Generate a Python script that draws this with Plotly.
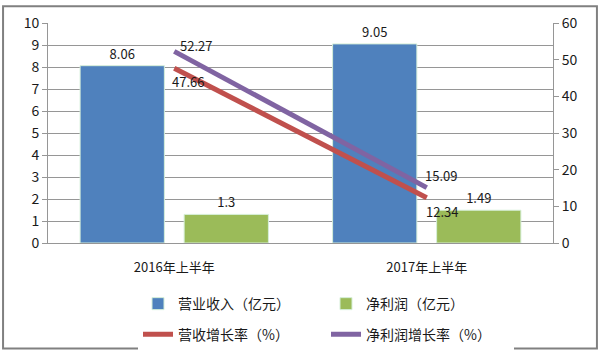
import plotly.graph_objects as go

categories = ["2016年上半年", "2017年上半年"]
revenue = [8.06, 9.05]          # 营业收入（亿元）
net_profit = [1.3, 1.49]        # 净利润（亿元）
rev_growth = [47.66, 12.34]     # 营收增长率（%）
np_growth = [52.27, 15.09]      # 净利润增长率（%）
left_ticks = list(range(0, 11))
right_ticks = list(range(0, 61, 10))

FONT = "Noto Sans CJK SC, Liberation Sans, sans-serif"
fig = go.Figure()

fig.add_trace(go.Bar(
    x=categories, y=revenue, name="营业收入（亿元）",
    marker=dict(color="#4F81BD", line=dict(color="#D6EFD9", width=1)),
    text=[f"{v:g}" for v in revenue], textposition="outside",
    textfont=dict(size=13, color="#1a1a1a"), cliponaxis=False,
    legend="legend"))
fig.add_trace(go.Bar(
    x=categories, y=net_profit, name="净利润（亿元）",
    marker=dict(color="#9BBB59", line=dict(color="#D6EFD9", width=1)),
    text=[f"{v:g}" for v in net_profit], textposition="outside",
    textfont=dict(size=13, color="#1a1a1a"), cliponaxis=False,
    legend="legend"))
fig.add_trace(go.Scatter(
    x=categories, y=rev_growth, name="营收增长率（%）", yaxis="y2",
    mode="lines", line=dict(color="#C0504D", width=5), legend="legend2"))
fig.add_trace(go.Scatter(
    x=categories, y=np_growth, name="净利润增长率（%）", yaxis="y2",
    mode="lines", line=dict(color="#8064A2", width=5), legend="legend2"))

# line value labels, anchored at the data points
annotations = []
for series, shifts in ((np_growth, [(22, 6), (14, 12)]), (rev_growth, [(14, -13), (15, -14)])):
    for cat, v, (dx, dy) in zip(categories, series, shifts):
        annotations.append(dict(x=cat, y=v, xref="x", yref="y2", text=f"{v:.2f}",
                                showarrow=False, xshift=dx, yshift=dy,
                                font=dict(size=13, color="#1a1a1a")))

fig.update_layout(
    width=600, height=353,
    margin=dict(l=48, r=47, t=20, b=110),
    paper_bgcolor="white", plot_bgcolor="white",
    font=dict(family=FONT, size=13, color="#1a1a1a"),
    barmode="group", bargap=0.176, bargroupgap=0.19,
    xaxis=dict(showline=True, linecolor="#969696", ticks="", tickfont=dict(size=13),
               ticklabelstandoff=12),
    yaxis=dict(range=[0, 10], tickvals=left_ticks, showgrid=True, gridcolor="#969696",
               gridwidth=1, showline=True, linecolor="#969696", ticks="outside",
               ticklen=5, tickcolor="#969696", tickfont=dict(size=14), zeroline=False),
    yaxis2=dict(range=[0, 60], tickvals=right_ticks, overlaying="y", side="right",
                showgrid=False, showline=True, linecolor="#969696", ticks="outside",
                ticklen=5, tickcolor="#969696", tickfont=dict(size=14), zeroline=False),
    legend=dict(orientation="h", xref="container", yref="container", x=0.23, y=0.184,
                xanchor="left", yanchor="top", entrywidth=143, font=dict(size=14),
                traceorder="normal"),
    legend2=dict(orientation="h", xref="container", yref="container", x=0.23, y=0.097,
                 xanchor="left", yanchor="top", entrywidth=143, font=dict(size=14),
                 traceorder="normal"),
    showlegend=True,
    annotations=annotations,
    shapes=[dict(type="rect", xref="paper", yref="paper", x0=-0.089, x1=1.087,
                 y0=-0.48, y1=1.076, line=dict(color="#808080", width=2))],
)

fig.write_html("out.html")
